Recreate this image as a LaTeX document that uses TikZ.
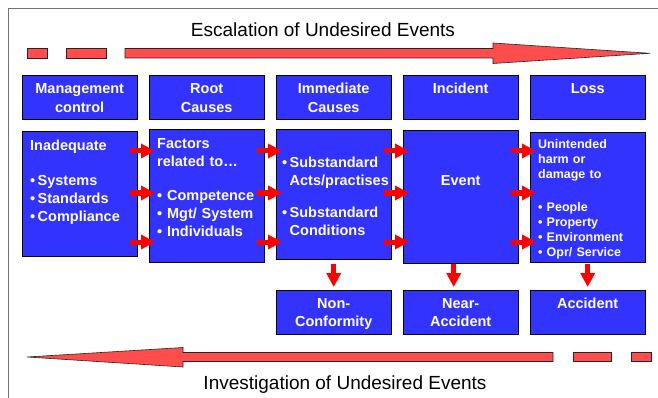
\documentclass[tikz,border=0pt]{standalone}
\usepackage{fontspec}
\setmainfont{Liberation Sans}
\usetikzlibrary{arrows.meta,calc}

\definecolor{boxblue}{RGB}{51,51,255}
\definecolor{bigred}{RGB}{255,77,77}

\begin{document}
\begin{tikzpicture}[
    x=1pt, y=-1pt,
    titletext/.style={anchor=base, font=\fontsize{19}{22}\selectfont},
    headbox/.style={draw, fill=boxblue, text=white, anchor=north west, inner sep=0pt,
        text width=115pt, align=center, font=\fontsize{14.5}{18.5}\selectfont\bfseries},
    midbox/.style={draw, fill=boxblue, text=white, anchor=north west, inner xsep=8pt, inner ysep=0pt,
        text width=99pt, align=left, font=\fontsize{14.5}{18}\selectfont\bfseries},
    smallarrow/.style={draw=red, line width=5pt, -{Triangle[length=14pt, width=14pt]}},
    bigarrow/.style={fill=bigred, draw=black!85, line width=0.6pt, line join=miter}
]

    \useasboundingbox (0, 0) rectangle (658, 398);

    % frame
    \draw [black!55, line width=1pt] (658, 9) -| (8, 398);

    % --------------------------------------------------------
    % 1. TITLES AND BIG ARROWS
    % --------------------------------------------------------

    \node (escal) [titletext] at (323, 37) {Escalation of Undesired Events};
    \node (invest) [titletext] at (345, 389) {Investigation of Undesired Events};

    % escalation arrow, left to right
    \draw [bigarrow] (27, 48.5) rectangle (47, 58);
    \draw [bigarrow] (66, 48.5) rectangle (106, 58);
    \draw [bigarrow] (125, 48.5) -- (493, 48.5) -- (493, 43) -- (650, 53.3)
        -- (493, 63.5) -- (493, 58) -- (125, 58) -- cycle;

    % investigation arrow, right to left
    \draw [bigarrow] (631, 352.5) rectangle (651, 361.5);
    \draw [bigarrow] (573, 352.5) rectangle (611, 361.5);
    \draw [bigarrow] (553, 352.5) -- (183, 352.5) -- (183, 347.5) -- (27, 357)
        -- (183, 367) -- (183, 361.5) -- (553, 361.5) -- cycle;

    % --------------------------------------------------------
    % 2. HEADER BOXES
    % --------------------------------------------------------

    \node (mgmt) [headbox, text height=18.5pt, text depth=25.5pt] at (22, 75) {Management\\control};
    \node (root) [headbox, text height=18.5pt, text depth=25.5pt] at (149, 75) {Root\\Causes};
    \node (immed) [headbox, text height=18.5pt, text depth=25.5pt] at (276, 75) {Immediate\\Causes};
    \node (incid) [headbox, text height=18.5pt, text depth=25.5pt] at (403, 75) {Incident};
    \node (loss) [headbox, text height=18.5pt, text depth=25.5pt] at (530, 75) {Loss};

    % --------------------------------------------------------
    % 3. CONTENT BOXES
    % --------------------------------------------------------

    \node (inad) [midbox, text height=19pt, text depth=106pt] at (22, 131) {
        Inadequate\\[17pt]
        •\,Systems\\
        •\,Standards\\
        •\,Compliance
    };

    \node (factors) [midbox, text height=19pt, text depth=114pt] at (149, 129) {
        Factors\\
        related to…\\[16pt]
        • Competence\\
        • Mgt/ System\\
        • Individuals
    };

    \node (subst) [midbox, inner xsep=6pt, text width=103pt, text height=38pt, text depth=92pt] at (276, 129) {
        •\,Substandard\\
        \phantom{•\,}Acts/practises\\[14pt]
        •\,Substandard\\
        \phantom{•\,}Conditions
    };

    \node (event) [midbox, inner xsep=0pt, text width=115pt, align=center, text height=55pt, text depth=78pt] at (403, 130) {Event};

    \node (unint) [midbox, font=\fontsize{12.5}{15}\selectfont\bfseries, text height=16.5pt, text depth=113.5pt] at (530, 132) {
        Unintended\\
        harm or\\
        damage to\\[18pt]
        • People\\
        • Property\\
        • Environment\\
        • Opr/ Service
    };

    % --------------------------------------------------------
    % 4. OUTCOME BOXES
    % --------------------------------------------------------

    \node (nonconf) [headbox, text height=18pt, text depth=26pt] at (276, 290) {Non-\\Conformity};
    \node (nearacc) [headbox, text height=18pt, text depth=26pt] at (403, 290) {Near-\\Accident};
    \node (accid) [headbox, text height=18pt, text depth=26pt] at (530, 290) {Accident};

    % --------------------------------------------------------
    % 5. RED ARROWS
    % --------------------------------------------------------

    \coordinate (rowa) at (0, 151);
    \coordinate (rowb) at (0, 193);
    \coordinate (rowc) at (0, 242);

    % management control -> root causes
    \draw [smallarrow] ($(inad.east |- rowa)+(-7,0)$) -- ($(factors.west |- rowa)+(6,0)$);
    \draw [smallarrow] ($(inad.east |- rowb)+(-7,0)$) -- ($(factors.west |- rowb)+(6,0)$);
    \draw [smallarrow] ($(inad.east |- rowc)+(-7,0)$) -- ($(factors.west |- rowc)+(6,0)$);

    % root causes -> immediate causes
    \draw [smallarrow] ($(factors.east |- rowa)+(-7,0)$) -- ($(subst.west |- rowa)+(6,0)$);
    \draw [smallarrow] ($(factors.east |- rowb)+(-7,0)$) -- ($(subst.west |- rowb)+(6,0)$);
    \draw [smallarrow] ($(factors.east |- rowc)+(-7,0)$) -- ($(subst.west |- rowc)+(6,0)$);

    % immediate causes -> incident
    \draw [smallarrow] ($(subst.east |- rowa)+(-7,0)$) -- ($(event.west |- rowa)+(6,0)$);
    \draw [smallarrow] ($(subst.east |- rowb)+(-7,0)$) -- ($(event.west |- rowb)+(6,0)$);
    \draw [smallarrow] ($(subst.east |- rowc)+(-7,0)$) -- ($(event.west |- rowc)+(6,0)$);

    % incident -> loss
    \draw [smallarrow] ($(event.east |- rowa)+(-7,0)$) -- ($(unint.west |- rowa)+(6,0)$);
    \draw [smallarrow] ($(event.east |- rowb)+(-7,0)$) -- ($(unint.west |- rowb)+(6,0)$);
    \draw [smallarrow] ($(event.east |- rowc)+(-7,0)$) -- ($(unint.west |- rowc)+(6,0)$);

    % down to the outcomes
    \draw [smallarrow] ([yshift=-5pt]subst.south) -- ([yshift=3pt]nonconf.north);
    \draw [smallarrow] ([xshift=-7pt, yshift=-1pt]event.south) -- ([xshift=-7pt, yshift=3pt]nearacc.north);
    \draw [smallarrow] ([yshift=-2pt]unint.south) -- ([yshift=3pt]accid.north);

\end{tikzpicture}
\end{document}
